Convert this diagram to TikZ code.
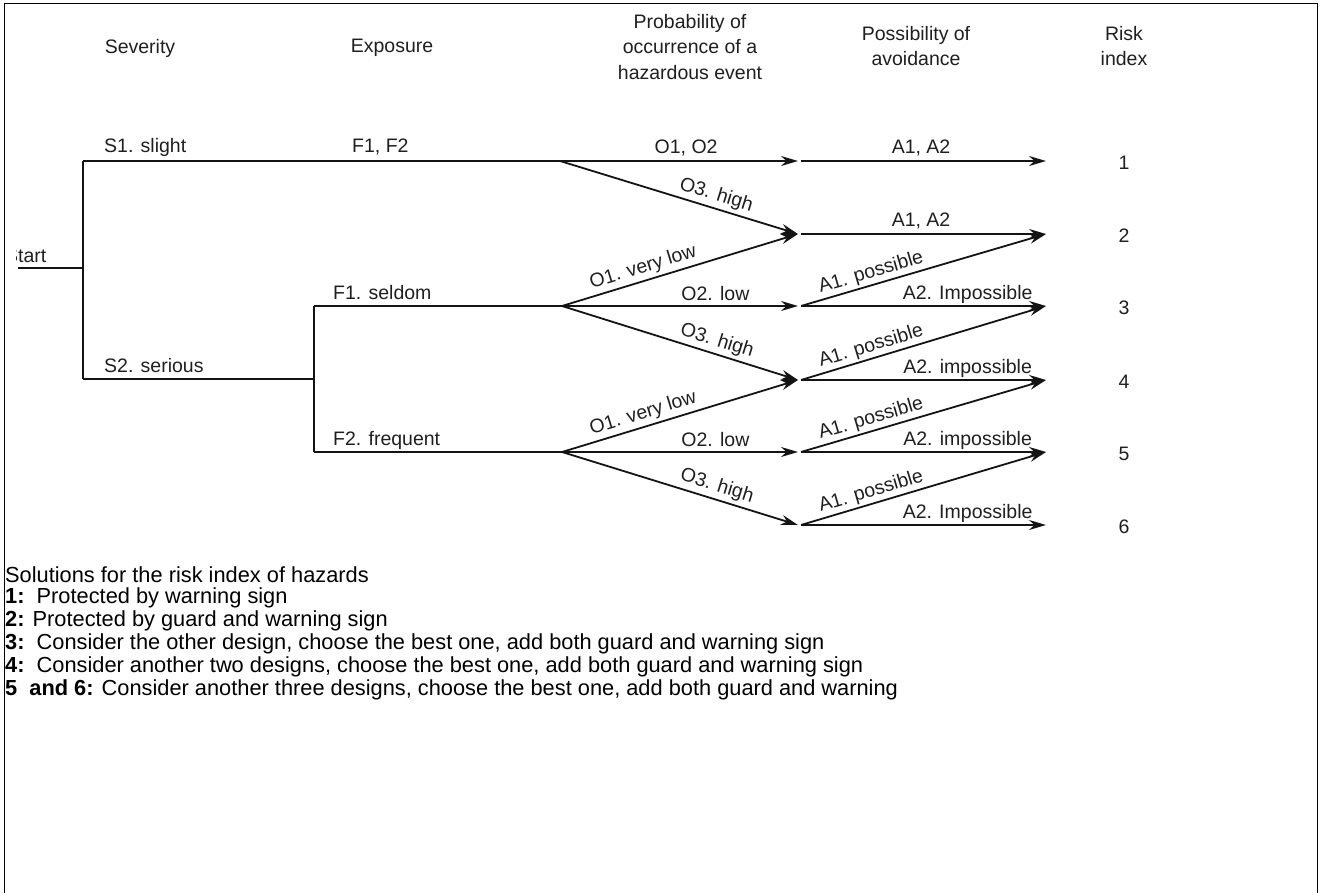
\documentclass[tikz,border=0pt]{standalone}
\usepackage{fontspec}
\setmainfont{Liberation Sans}
\usetikzlibrary{arrows.meta}
\begin{document}
\begin{tikzpicture}[x=1pt,y=-1pt,
  lbl/.style={font=\fontsize{19.5}{21}\selectfont, text=black!88, inner sep=1pt},
  hdr/.style={lbl, align=center, font=\fontsize{19.5}{25.5}\selectfont},
  br/.style={line width=1.8pt, draw=black!92},
  arr/.style={br, -{Stealth[length=17pt,width=10pt]}},
  bot/.style={font=\fontsize{21.8}{24}\selectfont, anchor=west, inner sep=0pt}
]
\useasboundingbox (0,0) rectangle (1324,893);
\draw[line width=1pt] (4,893) -- (4,4) -- (1317,4) -- (1317,893);

% headers
\node[hdr] (hs) at (140,48) {Severity};
\node[hdr] (he) at (392,48) {Exposure};
\node[hdr] (hp) at (690,47) {Probability of\\occurrence of a\\hazardous event};
\node[hdr] (ha) at (916,46) {Possibility of\\avoidance};
\node[hdr] (hr) at (1124,46) {Risk\\index};

% tree coordinates
\coordinate (st) at (18,268);
\coordinate (j0) at (83,268);
\coordinate (s1) at (83,161);
\coordinate (s2) at (83,379);
\coordinate (b1) at (560,161);
\coordinate (e0) at (314,379);
\coordinate (e1) at (314,306);
\coordinate (e2) at (314,452);
\coordinate (b2) at (562,306);
\coordinate (b3) at (562,452);
\foreach \i/\y in {1/161,2/234,3/306,4/380,5/452,6/525}{
  \coordinate (o\i) at (798,\y);
  \coordinate (a\i) at (801,\y);
  \coordinate (r\i) at (1046,\y);
  \node[lbl] (n\i) at (1124,\y+2) {\i};
}

% start label (clipped at frame)
\begin{scope}
  \clip (16,240) rectangle (80,266);
  \node[lbl, anchor=west] (stl) at (4,256) {Start};
\end{scope}

% severity / exposure
\draw[br] (st) -- (j0);
\draw[br] (s1) -- (s2);
\draw[br] (s1) -- (b1);
\draw[br] (s2) -- (e0);
\draw[br] (e1) -- (e2);
\draw[br] (e1) -- (b2);
\draw[br] (e2) -- (b3);
\node[lbl, anchor=west] (ls1) at (103,147) {S1. slight};
\node[lbl, anchor=west] (lf12) at (351,147) {F1, F2};
\node[lbl, anchor=west] (ls2) at (103,366) {S2. serious};
\node[lbl, anchor=west] (lf1) at (332,293) {F1. seldom};
\node[lbl, anchor=west] (lf2) at (332,440) {F2. frequent};

% occurrence
\draw[arr] (b1) -- node[lbl, above=3pt, pos=0.53] {O1, O2} (o1);
\draw[arr] (b1) -- node[lbl, sloped, above=2pt, pos=0.64] {O3. high} (o2);
\draw[arr] (b2) -- node[lbl, sloped, above=2pt, pos=0.36] {O1. very low} (o2);
\draw[arr] (b2) -- node[lbl, above=3pt, pos=0.65] {O2. low} (o3);
\draw[arr] (b2) -- node[lbl, sloped, above=2pt, pos=0.64] {O3. high} (o4);
\draw[arr] (b3) -- node[lbl, sloped, above=2pt, pos=0.36] {O1. very low} (o4);
\draw[arr] (b3) -- node[lbl, above=3pt, pos=0.65] {O2. low} (o5);
\draw[arr] (b3) -- node[lbl, sloped, above=2pt, pos=0.64] {O3. high} (o6);

% avoidance
\draw[arr] (a1) -- node[lbl, above=3pt, pos=0.49] {A1, A2} (r1);
\draw[arr] (a2) -- node[lbl, above=3pt, pos=0.49] {A1, A2} (r2);
\draw[arr] (a3) -- node[lbl, sloped, above=1pt, pos=0.3] {A1. possible} (r2);
\draw[arr] (a3) -- node[lbl, above=1pt, pos=0.68] {A2. Impossible} (r3);
\draw[arr] (a4) -- node[lbl, sloped, above=1pt, pos=0.3] {A1. possible} (r3);
\draw[arr] (a4) -- node[lbl, above=1pt, pos=0.68] {A2. impossible} (r4);
\draw[arr] (a5) -- node[lbl, sloped, above=1pt, pos=0.3] {A1. possible} (r4);
\draw[arr] (a5) -- node[lbl, above=1pt, pos=0.68] {A2. impossible} (r5);
\draw[arr] (a6) -- node[lbl, sloped, above=1pt, pos=0.3] {A1. possible} (r5);
\draw[arr] (a6) -- node[lbl, above=1pt, pos=0.68] {A2. Impossible} (r6);

% solutions text
\node[bot] (t0) at (5,575) {Solutions for the risk index of hazards};
\node[bot] (t1) at (5,598) {\textbf{1:}\ \ Protected by warning sign};
\node[bot] (t2) at (5,621) {\textbf{2:} Protected by guard and warning sign};
\node[bot] (t3) at (5,644) {\textbf{3:}\ \ Consider the other design, choose the best one, add both guard and warning sign};
\node[bot] (t4) at (5,667) {\textbf{4:}\ \ Consider another two designs, choose the best one, add both guard and warning sign};
\node[bot] (t5) at (5,690) {\textbf{5\ \ and 6:} Consider another three designs, choose the best one, add both guard and warning};
\end{tikzpicture}
\end{document}
